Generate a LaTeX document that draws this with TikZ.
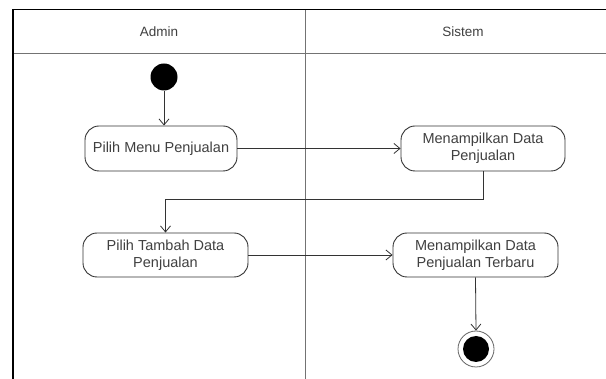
\documentclass[tikz,border=0pt]{standalone}
\usepackage{fontspec}
\setmainfont{Liberation Sans}
\usetikzlibrary{arrows.meta}
\begin{document}
\begin{tikzpicture}[x=1pt,y=-1pt,
  act/.style={draw=black!80, line width=0.9pt, rounded corners=14pt, fill=white,
    minimum height=45pt, align=center, inner sep=2pt,
    font=\fontsize{14.5}{17}\selectfont, text=black!75},
  lane/.style={font=\fontsize{13.5}{16}\selectfont, text=black!75},
  flow/.style={draw=black!80, line width=0.8pt, -{Straight Barb[length=6pt,width=10pt]}},
  startnode/.style={circle, fill=black, minimum size=27pt, inner sep=0pt},
  endring/.style={circle, draw=black!60, line width=0.8pt, minimum size=36pt, inner sep=0pt},
  endcore/.style={circle, fill=black, minimum size=26pt, inner sep=0pt}]
\useasboundingbox (0,0) rectangle (606,379);
\fill[white] (0,0) rectangle (606,379);
% swimlane frame
\draw[black!55, line width=0.9pt] (13,53) -- (606,53);
\draw[black!55, line width=0.9pt] (305,9.5) -- (305,379);
\draw[black, line width=1.4pt] (13,379) -- (13,9.5) -- (606,9.5);
\node[lane] (admin) at (159,32) {Admin};
\node[lane] (sistem) at (463,32) {Sistem};
% nodes
\node[startnode] (start) at (164,77) {};
\node[act, minimum width=152pt] (b1) at (161,148.5) {Pilih Menu Penjualan};
\node[act, minimum width=164pt] (b2) at (483,148.5) {Menampilkan Data\\Penjualan};
\node[act, minimum width=165pt, minimum height=44pt] (b3) at (165.5,255) {Pilih Tambah Data\\Penjualan};
\node[act, minimum width=165pt, minimum height=44pt] (b4) at (475.5,255) {Menampilkan Data\\Penjualan Terbaru};
\node[endring] (end) at (476,349) {};
\node[endcore] (endin) at (end) {};
% connectors
\draw[flow] (start) -- (start |- b1.north);
\draw[flow] (b1.east) -- (b2.west);
\draw[flow] (b2.south) -- ++(0,28) -| (b3.north);
\draw[flow] (b3.east) -- (b4.west);
\draw[flow] (b4.south) -- (end.north);
\end{tikzpicture}
\end{document}
